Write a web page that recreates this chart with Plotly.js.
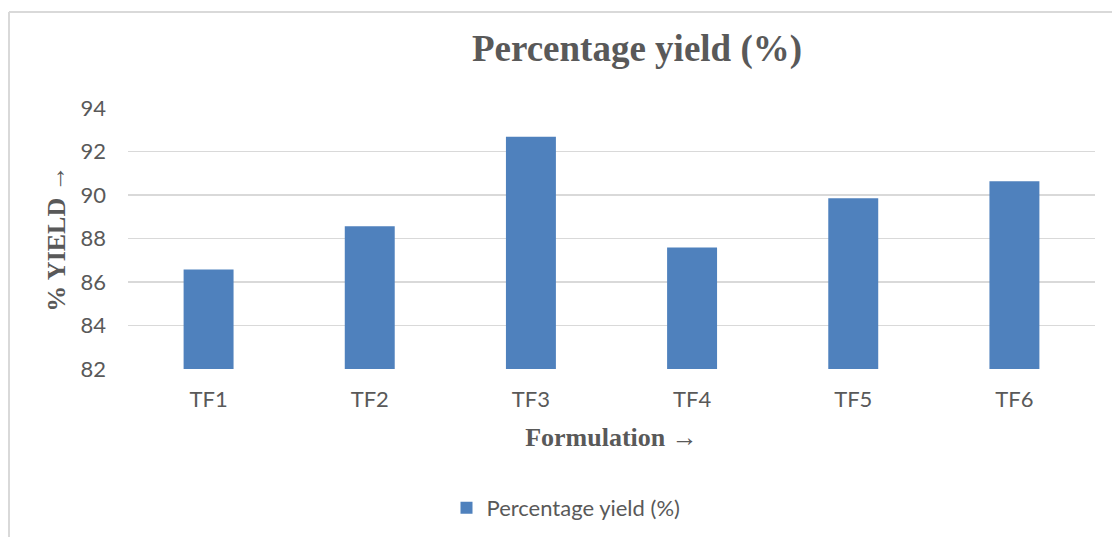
<!DOCTYPE html>
<html>
<head>
<meta charset="utf-8">
<script src="https://cdn.plot.ly/plotly-3.0.1.min.js"></script>
<style>
  html, body { margin: 0; padding: 0; background: #ffffff; }
  #chart { width: 1112px; height: 537px; }
</style>
</head>
<body>
<div id="chart"></div>
<script>
// Formulations and their percentage yield
const formulations = ["TF1", "TF2", "TF3", "TF4", "TF5", "TF6"];
const yieldPct = [86.58, 88.56, 92.68, 87.59, 89.85, 90.63];
const yTicks = [82, 84, 86, 88, 90, 92, 94];

const W = 1112, H = 537;
const margin = { l: 128, r: 17, t: 108, b: 168, pad: 0 };
const plotW = W - margin.l - margin.r;
const plotH = H - margin.t - margin.b;

// convert page pixels to paper fractions for the outer frame
const px2x = px => (px - margin.l) / plotW;
const px2y = py => (H - margin.b - py) / plotH;

const grey = "#595959";
const serif = "'Liberation Serif', 'Times New Roman', serif";
const sans = "Lato, 'Open Sans', sans-serif";

const trace = {
  type: "bar",
  x: formulations,
  y: yieldPct,
  name: "Percentage yield (%)",
  marker: { color: "#4f81bd" },
  hoverinfo: "x+y"
};

const layout = {
  width: W,
  height: H,
  margin: margin,
  paper_bgcolor: "#ffffff",
  plot_bgcolor: "#ffffff",
  bargap: 0.69,
  title: {
    text: "<b>Percentage yield (%)</b>",
    font: { family: serif, size: 37, color: grey },
    xref: "container", x: 637 / W, xanchor: "center",
    yref: "container", y: 1 - 48 / H, yanchor: "middle"
  },
  xaxis: {
    type: "category",
    showgrid: false,
    showline: false,
    zeroline: false,
    ticks: "",
    ticklabelstandoff: 15,
    tickfont: { family: sans, size: 22, color: grey },
    title: {
      text: "<b>Formulation →</b>",
      font: { family: serif, size: 26, color: grey },
      standoff: 16
    }
  },
  yaxis: {
    range: [82, 94],
    tickvals: yTicks,
    ticktext: yTicks.map(String),
    showgrid: true,
    gridcolor: "#d9d9d9",
    gridwidth: 1.5,
    zeroline: false,
    showline: false,
    ticks: "",
    ticklabelstandoff: 21,
    tickfont: { family: sans, size: 22, color: grey },
    title: {
      text: "<b>% YIELD →</b>",
      font: { family: serif, size: 26, color: grey },
      standoff: 7
    }
  },
  showlegend: true,
  legend: {
    orientation: "h",
    xref: "container", x: 566 / W, xanchor: "center",
    yref: "container", y: 1 - 508 / H, yanchor: "middle",
    font: { family: sans, size: 22, color: grey },
    itemwidth: 30
  },
  shapes: [
    { type: "line", xref: "paper", yref: "paper",
      x0: px2x(9), x1: px2x(1130), y0: px2y(12), y1: px2y(12),
      line: { color: "#d9d9d9", width: 2 } },
    { type: "line", xref: "paper", yref: "paper",
      x0: px2x(9), x1: px2x(9), y0: px2y(12), y1: px2y(560),
      line: { color: "#d9d9d9", width: 2 } }
  ]
};

Plotly.newPlot("chart", [trace], layout, { displayModeBar: false, staticPlot: true });
</script>
</body>
</html>
